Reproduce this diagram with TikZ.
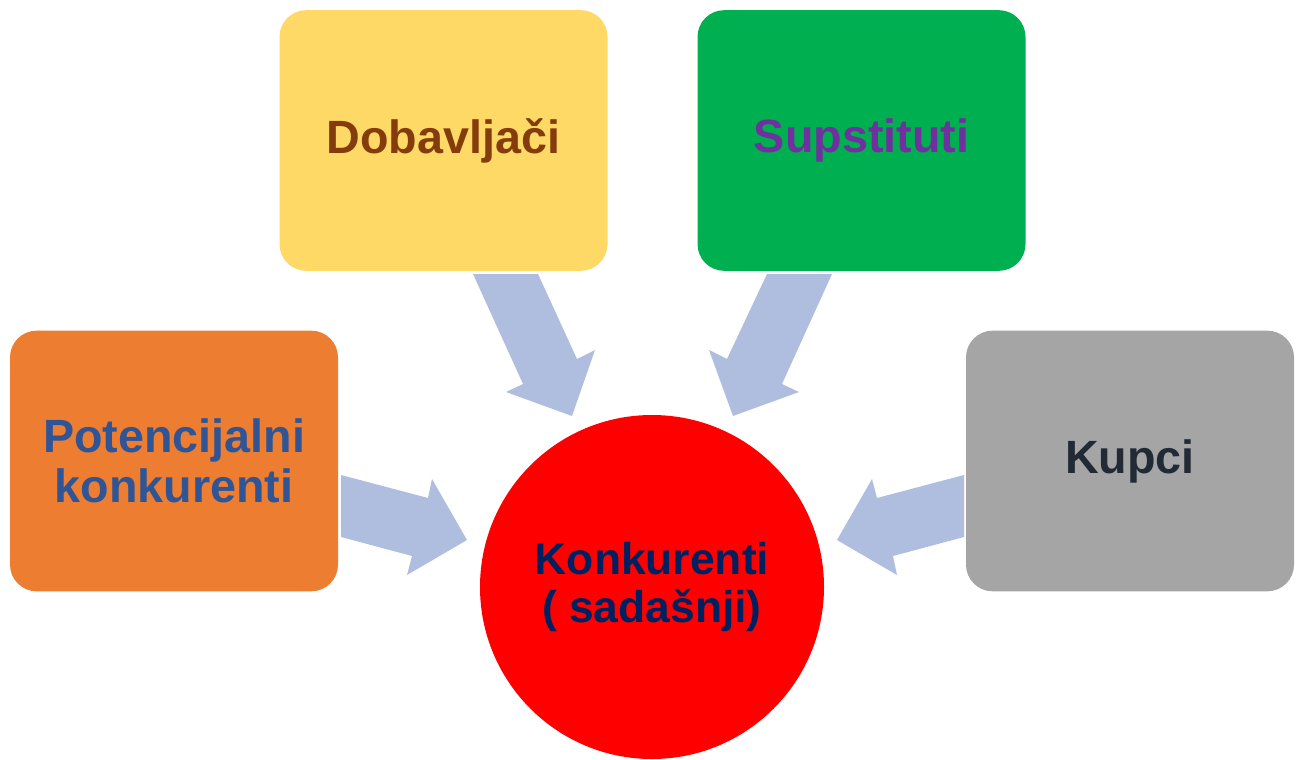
\documentclass[tikz,border=0pt]{standalone}
\usepackage{fontspec}
\setmainfont{Liberation Sans}
\definecolor{cyel}{HTML}{FED966}
\definecolor{cbrown}{HTML}{843C0C}
\definecolor{cgreen}{HTML}{00B050}
\definecolor{cpurple}{HTML}{7030A0}
\definecolor{corange}{HTML}{ED7D31}
\definecolor{cblue}{HTML}{2F5597}
\definecolor{cgray}{HTML}{A5A5A5}
\definecolor{cdark}{HTML}{222A35}
\definecolor{cred}{HTML}{FF0000}
\definecolor{cnavy}{HTML}{002060}
\definecolor{carrow}{HTML}{AFBDDF}
\begin{document}
\begin{tikzpicture}[x=0.75pt,y=-0.75pt,
  box/.style={rectangle,rounded corners=20pt,minimum width=246pt,minimum height=195.5pt,inner sep=0pt,align=center,font=\fontsize{35}{37.5}\selectfont\bfseries},
  blockarrow/.style={fill=carrow,draw=none}]
\useasboundingbox (0,0) rectangle (1300,760);
\node[box,fill=cyel,text=cbrown] (dob) at (443.5,140.5) {Dobavljači};
\node[box,fill=cgreen,text=cpurple] (sup) at (861.5,140.5) {Supstituti};
\node[box,fill=corange,text=cblue] (pot) at (174,461) {Potencijalni\\konkurenti};
\node[box,fill=cgray,text=cdark] (kup) at (1130,461) {Kupci};
\node[circle,fill=cred,text=cnavy,minimum size=258pt,inner sep=0pt,align=center,font=\fontsize{33.3}{36}\selectfont\bfseries] (kon) at (652,587) {Konkurenti\\( sadašnji)};
% block arrows
\fill[blockarrow] (473,274) -- (538,274) -- (577,359) -- (595,350) -- (572,416) -- (506,392) -- (523,384) -- cycle;
\fill[blockarrow] (767,274) -- (832,274) -- (782,384) -- (799,392) -- (733,416) -- (709,350) -- (727,359) -- cycle;
\fill[blockarrow] (341,475) -- (428,498) -- (432,479) -- (467,540) -- (407,575) -- (412,556) -- (341,537) -- cycle;
\fill[blockarrow] (964,475) -- (877,498) -- (872,479) -- (837,540) -- (897,575) -- (893,556) -- (964,537) -- cycle;
\end{tikzpicture}
\end{document}
